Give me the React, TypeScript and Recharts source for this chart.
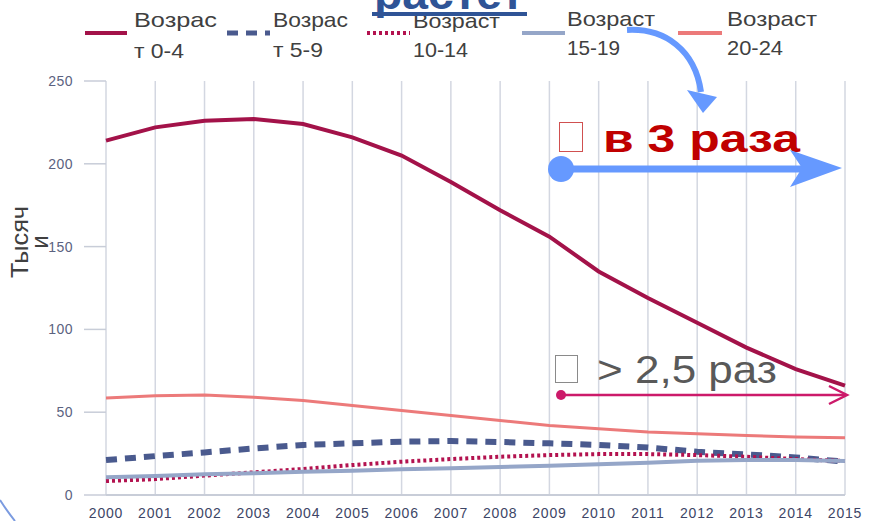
import React from 'react';
import { LineChart, Line, XAxis, YAxis, CartesianGrid } from 'recharts';

const years = ['2000','2001','2002','2003','2004','2005','2006','2007','2008','2009','2010','2011','2012','2013','2014','2015'];
const age0to4 = [214, 222, 226, 227, 224, 216, 205, 189, 172, 156, 135, 119, 104, 89, 76, 66];
const age5to9 = [21.1, 23.5, 25.7, 28.1, 30.2, 31.2, 32.2, 32.6, 32, 31.2, 30.2, 28.7, 26.1, 24.5, 22.7, 20.1];
const age10to14 = [8.4, 9.6, 11.7, 13.7, 15.7, 18.1, 20.1, 21.7, 23.1, 24.1, 24.7, 24.7, 24.1, 23.1, 21.7, 20.5];
const age15to19 = [10.7, 11.5, 12.5, 13.1, 14.1, 14.7, 15.5, 16.1, 16.9, 17.7, 18.5, 19.5, 20.7, 21.1, 21.1, 20.5];
const age20to24 = [58.6, 60, 60.4, 59, 57, 54, 51, 48, 45, 42, 40, 38, 37, 36, 35, 34.5];
const yTicks = [0, 50, 100, 150, 200, 250];

const seriesNames = [
  ['Возрас', 'т 0-4'],
  ['Возрас', 'т 5-9'],
  ['Возраст', '10-14'],
  ['Возраст', '15-19'],
  ['Возраст', '20-24'],
];

const data = years.map((y, i) => ({
  year: y,
  a: age0to4[i],
  b: age5to9[i],
  c: age10to14[i],
  d: age15to19[i],
  e: age20to24[i],
}));

const styles = [
  { key: 'a', color: '#a31249', width: 4, dash: undefined as string | undefined },
  { key: 'b', color: '#4a5a8e', width: 6, dash: '11 8' },
  { key: 'c', color: '#b3124f', width: 4, dash: '3 3' },
  { key: 'd', color: '#95a6c8', width: 4, dash: undefined },
  { key: 'e', color: '#ec7a7a', width: 3, dash: undefined },
];

// legend layout: icon x range, text x, baselines, text widths
const legendLayout = [
  { x1: 85, x2: 127, tx: 134, b1: 27, b2: 58, w1: 83, w2: 50 },
  { x1: 227, x2: 270, tx: 273, b1: 27, b2: 57, w1: 75, w2: 50 },
  { x1: 367, x2: 410, tx: 413, b1: 28, b2: 57, w1: 87, w2: 55 },
  { x1: 522, x2: 565, tx: 567, b1: 26, b2: 55, w1: 88, w2: 53 },
  { x1: 678, x2: 722, tx: 727, b1: 26, b2: 55, w1: 90, w2: 56 },
];

const FONT = '"Liberation Sans", Arial, sans-serif';

export default function App() {
  return (
    <div style={{ position: 'absolute', left: 0, top: 0, width: 869, height: 521, background: '#fff', overflow: 'hidden' }}>
      <LineChart width={869} height={521} data={data} margin={{ top: 81, right: 24, bottom: 0, left: 0 }}>
        <CartesianGrid horizontal={false} vertical={true} stroke="#d3d7e1" strokeWidth={1.5} />
        <XAxis
          dataKey="year"
          height={26}
          axisLine={{ stroke: '#c8cdd8', strokeWidth: 2 }}
          tickLine={false}
          tickSize={6}
          tickMargin={7}
          interval={0}
          tick={{ fill: '#3d4566', fontSize: 14, fontFamily: FONT, letterSpacing: 0.8 }}
        />
        <YAxis
          width={106}
          domain={[0, 250]}
          ticks={yTicks}
          axisLine={false}
          tickLine={{ stroke: '#c8cdd8', strokeWidth: 1.5 }}
          tickSize={22}
          tickMargin={11}
          tick={{ fill: '#5b6280', fontSize: 14, fontFamily: FONT, letterSpacing: 0.5 }}
        />
        {styles.map((s) => (
          <Line
            key={s.key}
            type="linear"
            dataKey={s.key}
            stroke={s.color}
            strokeWidth={s.width}
            strokeDasharray={s.dash}
            dot={false}
            activeDot={false}
            isAnimationActive={false}
          />
        ))}
      </LineChart>
      <svg width={869} height={521} style={{ position: 'absolute', left: 0, top: 0, pointerEvents: 'none' }} fontFamily={FONT}>
        {/* legend */}
        {legendLayout.map((l, i) => (
          <g key={i}>
            <line x1={l.x1} x2={l.x2} y1={33} y2={33} stroke={styles[i].color} strokeWidth={i === 1 ? 5 : 4} strokeDasharray={styles[i].dash} />
            <text x={l.tx} y={l.b1} fontSize={21} fill="#404040" textLength={l.w1} lengthAdjust="spacingAndGlyphs">{seriesNames[i][0]}</text>
            <text x={l.tx} y={l.b2} fontSize={21} fill="#404040" textLength={l.w2} lengthAdjust="spacingAndGlyphs">{seriesNames[i][1]}</text>
          </g>
        ))}
        {/* title fragment */}
        <text x={374} y={9} fontSize={44} fontWeight="bold" fill="#2f5496" textLength={150} lengthAdjust="spacingAndGlyphs">растет</text>
        <rect x={372} y={12} width={155} height={4} fill="#2f5496" />
        {/* y label */}
        <text x={28} y={242} fontSize={24} fill="#404040" textAnchor="middle" textLength={72} lengthAdjust="spacingAndGlyphs" transform="rotate(-90 28 242)">Тысяч</text>
        <text x={48} y={242} fontSize={24} fill="#404040" textAnchor="middle" transform="rotate(-90 48 242)">и</text>
        {/* curved blue arrow */}
        <path d="M627 30 C 665 28 695 50 701 92" fill="none" stroke="#6699ff" strokeWidth={6} />
        <polygon points="687,90 717,97 703,113" fill="#6699ff" />
        {/* в 3 раза */}
        <rect x={559.5} y={122.5} width={23} height={29} fill="none" stroke="#d05050" strokeWidth={1} />
        <text x={603} y={152} fontSize={38} fontWeight="bold" fill="#c00000" textLength={197} lengthAdjust="spacingAndGlyphs">в 3 раза</text>
        <line x1={561} x2={805} y1={169} y2={169} stroke="#6699ff" strokeWidth={7} />
        <circle cx={561} cy={169} r={13} fill="#6699ff" />
        <polygon points="790,150 842,168 790,187 802,168" fill="#6699ff" />
        {/* > 2,5 раз */}
        <rect x={555.5} y={355.5} width={22} height={27} fill="none" stroke="#8a8a8a" strokeWidth={1} />
        <text x={597} y={383} fontSize={38} fill="#595959" textLength={180} lengthAdjust="spacingAndGlyphs">&gt; 2,5 раз</text>
        <line x1={561} x2={846} y1={395} y2={395} stroke="#cc1a6a" strokeWidth={2.5} />
        <circle cx={561} cy={395} r={5} fill="#cc1a6a" />
        <polyline points="829,386 847,395 829,404" fill="none" stroke="#cc1a6a" strokeWidth={2.5} />
        {/* decorative arc */}
        <path d="M0 500 Q 7 511 15 521" fill="none" stroke="#7b9be0" strokeWidth={2} />
      </svg>
    </div>
  );
}
